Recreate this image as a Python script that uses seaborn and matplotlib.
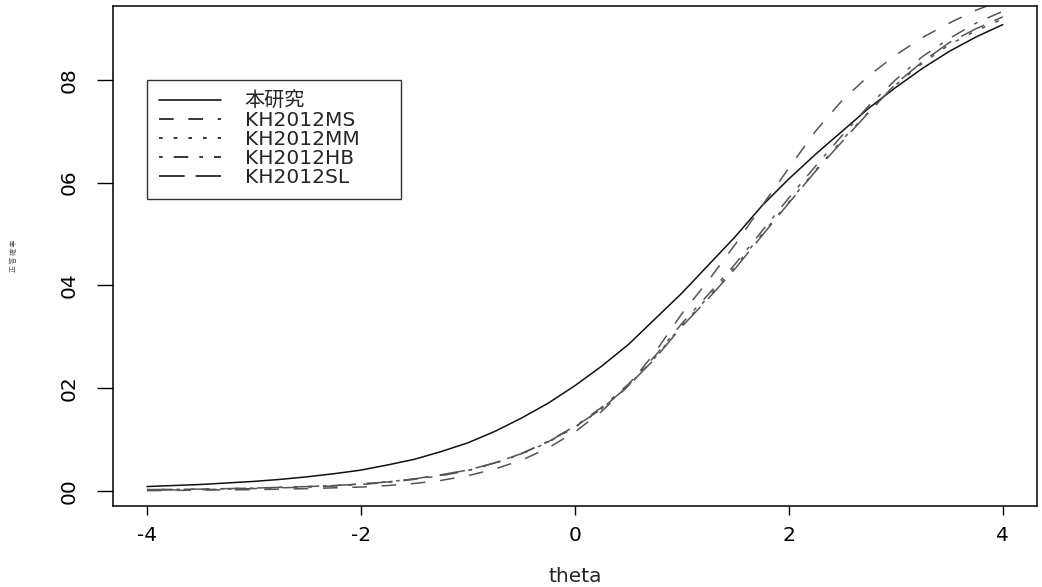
import numpy as np
import pandas as pd
import matplotlib
matplotlib.use("Agg")
import matplotlib.pyplot as plt
from matplotlib.lines import Line2D
import seaborn as sns

# ---- data ----
theta = [-4, -3.75, -3.5, -3.25, -3, -2.75, -2.5, -2.25, -2, -1.75, -1.5, -1.25,
         -1, -0.75, -0.5, -0.25, 0, 0.25, 0.5, 0.75, 1, 1.25, 1.5, 1.75,
         2, 2.25, 2.5, 2.75, 3, 3.25, 3.5, 3.75, 4]
p_honken = [0.009, 0.011, 0.013, 0.016, 0.019, 0.023, 0.028, 0.034, 0.041, 0.051,
            0.062, 0.077, 0.094, 0.116, 0.142, 0.171, 0.205, 0.243, 0.285, 0.335,
            0.385, 0.440, 0.495, 0.555, 0.607, 0.655, 0.700, 0.745, 0.785, 0.822,
            0.855, 0.883, 0.907]
p_ms = [0.001, 0.0015, 0.002, 0.0025, 0.003, 0.004, 0.005, 0.0065, 0.008, 0.011,
        0.015, 0.021, 0.030, 0.043, 0.060, 0.084, 0.115, 0.155, 0.205, 0.270,
        0.345, 0.410, 0.480, 0.555, 0.628, 0.700, 0.760, 0.808, 0.848, 0.882,
        0.910, 0.935, 0.955]
p_mm = [0.003, 0.0035, 0.004, 0.005, 0.006, 0.0075, 0.009, 0.011, 0.014, 0.018,
        0.024, 0.031, 0.040, 0.054, 0.072, 0.095, 0.124, 0.160, 0.205, 0.260,
        0.322, 0.378, 0.437, 0.500, 0.562, 0.624, 0.683, 0.738, 0.790, 0.832,
        0.868, 0.895, 0.918]
p_hb = [0.002, 0.0025, 0.003, 0.004, 0.005, 0.0065, 0.008, 0.010, 0.013, 0.017,
        0.023, 0.030, 0.040, 0.055, 0.073, 0.097, 0.126, 0.163, 0.208, 0.263,
        0.326, 0.383, 0.442, 0.506, 0.570, 0.632, 0.692, 0.750, 0.800, 0.845,
        0.880, 0.910, 0.933]
p_sl = [0.003, 0.0035, 0.004, 0.005, 0.006, 0.0075, 0.009, 0.011, 0.014, 0.018,
        0.024, 0.032, 0.041, 0.055, 0.073, 0.096, 0.125, 0.160, 0.205, 0.258,
        0.320, 0.375, 0.433, 0.497, 0.560, 0.622, 0.680, 0.737, 0.792, 0.835,
        0.872, 0.899, 0.922]

series_names = ["本研究", "KH2012MS", "KH2012MM", "KH2012HB", "KH2012SL"]
series_vals = [p_honken, p_ms, p_mm, p_hb, p_sl]
xticks = [-4, -2, 0, 2, 4]
yticks = [0.0, 0.2, 0.4, 0.6, 0.8]
ytick_labels = ["00", "02", "04", "06", "08"]

df = pd.DataFrame({
    "theta": np.tile(theta, len(series_names)),
    "p": np.concatenate(series_vals),
    "model": np.repeat(series_names, len(theta)),
})

# ---- style ----
sns.set_theme(style="white")
plt.rcParams["font.family"] = ["DejaVu Sans", "Noto Sans CJK JP"]
FS = 14.5

u = 2.4
dash_map = {
    "本研究": "",
    "KH2012MS": (4 * u, 4 * u),
    "KH2012MM": (1 * u, 3 * u),
    "KH2012HB": (1 * u, 3 * u, 4 * u, 3 * u),
    "KH2012SL": (7 * u, 3 * u),
}
palette = {
    "本研究": "#111111",
    "KH2012MS": "#555555",
    "KH2012MM": "#555555",
    "KH2012HB": "#555555",
    "KH2012SL": "#555555",
}

fig = plt.figure(figsize=(10.42, 5.87), dpi=100)
ax = fig.add_axes([0.1082, 0.1387, 0.8870, 0.8518])

sns.lineplot(data=df, x="theta", y="p", hue="model", style="model",
             hue_order=series_names, style_order=series_names,
             palette=palette, dashes=dash_map, linewidth=1.1,
             legend=False, ax=ax)

ax.set_xlim(-4.32, 4.32)
ax.set_ylim(-0.028, 0.944)
ax.set_xticks(xticks)
ax.set_xticklabels([str(v) for v in xticks], fontsize=FS)
ax.set_yticks(yticks)
ax.set_yticklabels(ytick_labels, fontsize=FS, rotation=90, va="center")

for s in ax.spines.values():
    s.set_visible(True)
    s.set_color("black")
    s.set_linewidth(1.1)

ax.tick_params(axis="x", direction="out", length=6.7, width=1.0, pad=8, colors="black",
               bottom=True)
ax.tick_params(axis="y", direction="out", length=11.5, width=1.0, pad=13, colors="black",
               left=True)

ax.set_xlabel("theta", fontsize=FS, labelpad=16)
ax.set_ylabel("")
fig.text(0.013, 0.565, "正 答 確 率", rotation=90, fontsize=5, color="#555555",
         ha="center", va="center",
         family=["Noto Sans CJK JP", "DejaVu Sans"])

# legend
handles = []
for name in series_names:
    d = dash_map[name]
    h = Line2D([0], [0], color="black", linewidth=1.1)
    if d:
        h.set_dashes(d)
    handles.append(h)
leg = ax.legend(handles, series_names, loc="upper left",
                bbox_to_anchor=(0.037, 0.45, 0.2748, 0.401), mode="expand",
                borderaxespad=0,
                fontsize=FS, frameon=True, fancybox=False,
                handlelength=3.1, handletextpad=1.15, labelspacing=0.0,
                borderpad=0.6)
leg.get_frame().set_edgecolor("black")
leg.get_frame().set_linewidth(1.0)

fig.savefig("out.png", dpi=100)
